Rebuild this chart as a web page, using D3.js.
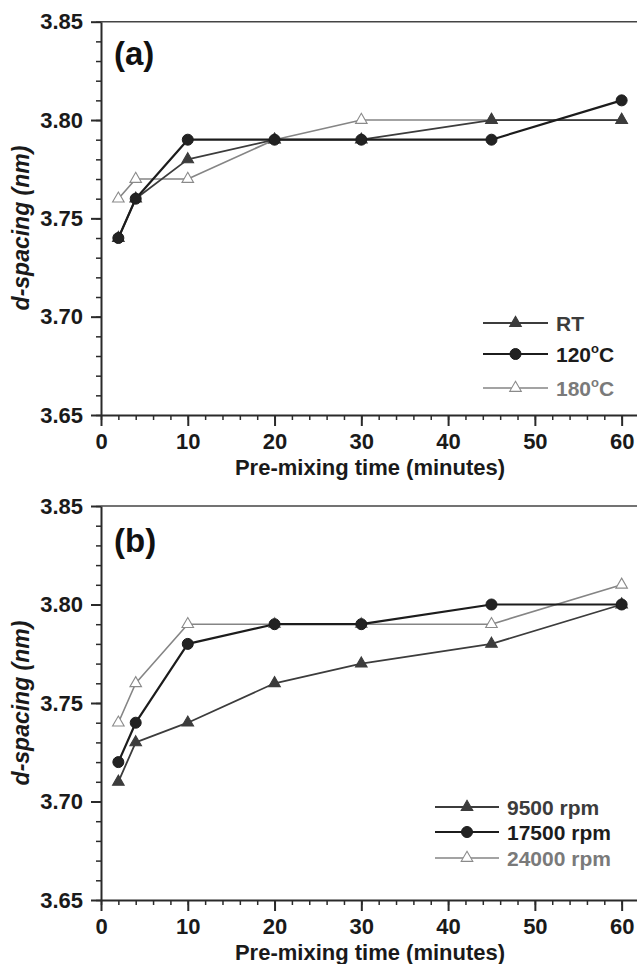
<!DOCTYPE html>
<html>
<head>
<meta charset="utf-8">
<script src="https://cdn.jsdelivr.net/npm/d3@7"></script>
<style>
  html,body{margin:0;padding:0;background:#fff;}
  svg{display:block;}
  text{font-family:"Liberation Sans", Arial, Helvetica, sans-serif;font-weight:bold;}
</style>
</head>
<body>
<svg id="chart" width="637" height="964"></svg>
<script>
// ---------------- DATA ----------------
const times = [2, 4, 10, 20, 30, 45, 60];
const xTicks = [0, 10, 20, 30, 40, 50, 60];
const yTicks = [3.65, 3.70, 3.75, 3.80, 3.85];

// Panel (a): temperature
const seriesNamesA = ["RT", "120", "180"];
const rtValues    = [3.74, 3.76, 3.78, 3.79, 3.79, 3.80, 3.80];
const t120Values  = [3.74, 3.76, 3.79, 3.79, 3.79, 3.79, 3.81];
const t180Values  = [3.76, 3.77, 3.77, 3.79, 3.80, 3.80, 3.80];

// Panel (b): mixing speed
const seriesNamesB = ["9500 rpm", "17500 rpm", "24000 rpm"];
const rpm9500Values  = [3.71, 3.73, 3.74, 3.76, 3.77, 3.78, 3.80];
const rpm17500Values = [3.72, 3.74, 3.78, 3.79, 3.79, 3.80, 3.80];
const rpm24000Values = [3.74, 3.76, 3.79, 3.79, 3.79, 3.79, 3.81];

const panelLabels = ["(a)", "(b)"];
const xTitle = "Pre-mixing time (minutes)";
const yTitle = "d-spacing (nm)";

// ---------------- STYLES ----------------
const styles = {
  filled: {line: "#3c3c3c", fill: "#3c3c3c", stroke: "#3c3c3c", shape: "tri", lw: 1.8, text: "#3c3c3c"},
  circle: {line: "#1c1c1c", fill: "#222", stroke: "#1c1c1c", shape: "circ", lw: 2.2, text: "#1c1c1c"},
  open:   {line: "#858585", fill: "#fff", stroke: "#8a8a8a", shape: "tri", lw: 1.6, text: "#7a7a7a"}
};

const svg = d3.select("#chart");
const x = d3.scaleLinear().domain([0, 62]).range([101, 639]);
const axisColor = "#2a2a2a";

function marker(g, shape, st, cx, cy) {
  if (shape === "circ") {
    g.append("circle").attr("cx", cx).attr("cy", cy).attr("r", 5.5)
      .attr("fill", st.fill).attr("stroke", st.stroke).attr("stroke-width", 1);
  } else {
    g.append("path").attr("d", d3.symbol().type(d3.symbolTriangle).size(58)())
      .attr("transform", `translate(${cx},${cy})`)
      .attr("fill", st.fill).attr("stroke", st.stroke).attr("stroke-width", 1.1);
  }
}

function drawPanel(cfg) {
  const y = d3.scaleLinear().domain([3.65, 3.85]).range([cfg.yBot, cfg.yTop]);
  const g = svg.append("g");

  // top frame line
  g.append("line").attr("x1", x(0)).attr("x2", 637).attr("y1", y(3.85)).attr("y2", y(3.85))
    .attr("stroke", "#444").attr("stroke-width", 1.6);

  // minor ticks
  const xMinor = d3.range(0, 63, 2);
  const yMinor = d3.range(0, 21).map(i => 3.65 + i * 0.01);
  g.append("g").attr("transform", `translate(0,${cfg.yBot})`)
    .call(d3.axisBottom(x).tickValues(xMinor).tickSize(5).tickSizeOuter(0).tickFormat(""))
    .call(a => a.selectAll("line").attr("stroke", axisColor).attr("stroke-width", 1.5))
    .call(a => a.select(".domain").attr("stroke", axisColor).attr("stroke-width", 2));
  g.append("g").attr("transform", `translate(${x(0)},0)`)
    .call(d3.axisLeft(y).tickValues(yMinor).tickSize(5).tickSizeOuter(0).tickFormat(""))
    .call(a => a.selectAll("line").attr("stroke", axisColor).attr("stroke-width", 1.5))
    .call(a => a.select(".domain").attr("stroke", axisColor).attr("stroke-width", 2));

  // major ticks
  g.append("g").attr("transform", `translate(0,${cfg.yBot})`)
    .call(d3.axisBottom(x).tickValues(xTicks).tickSize(11).tickPadding(7).tickSizeOuter(0).tickFormat(d3.format("d")))
    .call(a => a.select(".domain").remove())
    .call(a => a.selectAll("line").attr("stroke", axisColor).attr("stroke-width", 2))
    .call(a => a.selectAll("text").attr("font-size", 22).attr("fill", "#1a1a1a")
      .style("font-family", '"Liberation Sans", Arial, sans-serif').style("font-weight", "bold"));
  g.append("g").attr("transform", `translate(${x(0)},0)`)
    .call(d3.axisLeft(y).tickValues(yTicks).tickSize(10).tickPadding(8).tickSizeOuter(0).tickFormat(d3.format(".2f")))
    .call(a => a.select(".domain").remove())
    .call(a => a.selectAll("line").attr("stroke", axisColor).attr("stroke-width", 2))
    .call(a => a.selectAll("text").attr("font-size", 22).attr("fill", "#1a1a1a")
      .style("font-family", '"Liberation Sans", Arial, sans-serif').style("font-weight", "bold"));

  // axis titles
  g.append("text").attr("x", 370).attr("y", cfg.yBot + 60).attr("text-anchor", "middle")
    .attr("font-size", 22).attr("fill", "#1a1a1a").text(xTitle);
  g.append("text").attr("transform", `translate(29,${cfg.yTitleC}) rotate(-90)`)
    .attr("text-anchor", "middle").attr("font-size", 23).attr("font-style", "italic")
    .attr("fill", "#1a1a1a").text(yTitle);

  // panel label
  g.append("text").attr("x", 114).attr("y", cfg.yTop + cfg.labelDy).attr("font-size", 33)
    .attr("fill", "#111").text(cfg.label);

  // series
  const line = d3.line().x((d, i) => x(times[i])).y(d => y(d));
  cfg.series.forEach(s => {
    const st = styles[s.style];
    g.append("path").datum(s.values).attr("d", line).attr("fill", "none")
      .attr("stroke", st.line).attr("stroke-width", st.lw).attr("stroke-linejoin", "round");
    s.values.forEach((v, i) => marker(g, st.shape, st, x(times[i]), y(v)));
  });

  // legend
  cfg.legend.forEach((s, i) => {
    const st = styles[s.style];
    const ly = cfg.legY[i];
    g.append("line").attr("x1", cfg.legX1).attr("x2", cfg.legX2).attr("y1", ly).attr("y2", ly)
      .attr("stroke", st.line).attr("stroke-width", st.lw);
    marker(g, st.shape, st, (cfg.legX1 + cfg.legX2) / 2, ly);
    const t = g.append("text").attr("x", cfg.legX2 + 8).attr("y", ly + 7.5)
      .attr("font-size", cfg.legFont).attr("fill", st.text);
    if (s.deg) {
      t.append("tspan").text(s.name);
      t.append("tspan").attr("font-size", 13).attr("dy", -9).text("o");
      t.append("tspan").attr("dy", 9).text("C");
    } else {
      t.text(s.name);
    }
  });
}

drawPanel({
  yTop: 21.7, yBot: 415, yTitleC: 228, label: panelLabels[0], labelDy: 43,
  series: [
    {values: t180Values, style: "open"},
    {values: rtValues, style: "filled"},
    {values: t120Values, style: "circle"}
  ],
  legend: [
    {name: seriesNamesA[0], style: "filled"},
    {name: seriesNamesA[1], style: "circle", deg: true},
    {name: seriesNamesA[2], style: "open", deg: true}
  ],
  legY: [323, 354, 388], legX1: 483, legX2: 548, legFont: 21
});

drawPanel({
  yTop: 506, yBot: 900, yTitleC: 703, label: panelLabels[1], labelDy: 46,
  series: [
    {values: rpm24000Values, style: "open"},
    {values: rpm9500Values, style: "filled"},
    {values: rpm17500Values, style: "circle"}
  ],
  legend: [
    {name: seriesNamesB[0], style: "filled"},
    {name: seriesNamesB[1], style: "circle"},
    {name: seriesNamesB[2], style: "open"}
  ],
  legY: [807, 832, 858], legX1: 435, legX2: 499, legFont: 21
});
</script>
</body>
</html>
